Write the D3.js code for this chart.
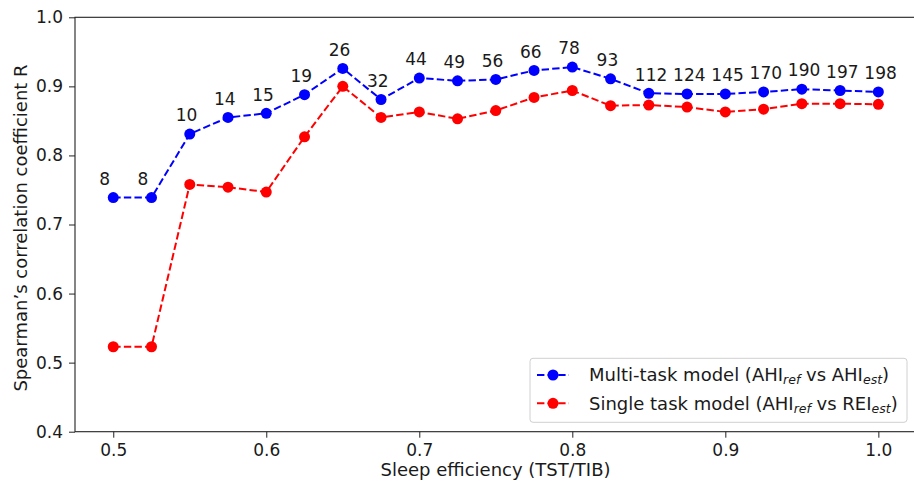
<!DOCTYPE html>
<html>
<head>
<meta charset="utf-8">
<script src="https://cdn.jsdelivr.net/npm/d3@7"></script>
<style>
  body { margin: 0; background: #fff; }
  text { font-family: "DejaVu Sans", sans-serif; fill: #1a1a1a; }
</style>
</head>
<body>
<svg class="chart"></svg>
<script>
var width = 914,
    height = 485;

// sleep efficiency bins
var efficiency = [0.5, 0.525, 0.55, 0.575, 0.6, 0.625, 0.65, 0.675, 0.7, 0.725, 0.75,
                  0.775, 0.8, 0.825, 0.85, 0.875, 0.9, 0.925, 0.95, 0.975, 1.0];
var multiTask = [0.739, 0.739, 0.831, 0.855, 0.861, 0.888, 0.926, 0.881, 0.912, 0.908, 0.910,
                 0.923, 0.928, 0.911, 0.890, 0.889, 0.889, 0.892, 0.896, 0.894, 0.892];
var singleTask = [0.523, 0.523, 0.758, 0.754, 0.747, 0.827, 0.900, 0.855, 0.863, 0.853, 0.865,
                  0.884, 0.894, 0.872, 0.873, 0.870, 0.863, 0.867, 0.875, 0.875, 0.874];
var counts = [8, 8, 10, 14, 15, 19, 26, 32, 44, 49, 56, 66, 78, 93, 112, 124, 145, 170, 190, 197, 198];
var xticks = [0.5, 0.6, 0.7, 0.8, 0.9, 1.0];
var yticks = [0.4, 0.5, 0.6, 0.7, 0.8, 0.9, 1.0];

var padLeft = 75, padRight = 916.6, padTop = 17.3, padBottom = 431.7;
var fontSize = "17px";

var xscale = d3.scaleLinear().domain([0.475, 1.025]).range([padLeft, padRight]);
var yscale = d3.scaleLinear().domain([0.4, 1.0]).range([padBottom, padTop]);

var chart = d3.select(".chart")
    .attr("width", width)
    .attr("height", height);

// axes
var xaxis = chart.append("g")
    .attr("transform", "translate(0," + padBottom + ")")
    .call(d3.axisBottom(xscale).tickValues(xticks).tickSize(6).tickPadding(6)
      .tickFormat(d3.format(".1f")));
var yaxis = chart.append("g")
    .attr("transform", "translate(" + padLeft + ",0)")
    .call(d3.axisLeft(yscale).tickValues(yticks).tickSize(6).tickPadding(6)
      .tickFormat(d3.format(".1f")));

[xaxis, yaxis].forEach(function(a) {
  a.select(".domain").remove();
  a.selectAll("line").attr("stroke", "#222").attr("stroke-width", 1);
  a.selectAll("text").style("font-size", fontSize).attr("font-family", null);
});

// spines
chart.append("rect")
    .attr("x", padLeft).attr("y", padTop)
    .attr("width", padRight - padLeft).attr("height", padBottom - padTop)
    .attr("fill", "none").attr("stroke", "#222").attr("stroke-width", 1.1);

var series = [
  { values: multiTask, color: "#0000ff" },
  { values: singleTask, color: "#ff0000" }
];

var line = d3.line()
    .x(function(d) { return xscale(d[0]); })
    .y(function(d) { return yscale(d[1]); });

series.forEach(function(s) {
  var pts = efficiency.map(function(x, i) { return [x, s.values[i]]; });
  chart.append("path")
      .datum(pts)
      .attr("d", line)
      .attr("fill", "none")
      .attr("stroke", s.color)
      .attr("stroke-width", 2)
      .attr("stroke-dasharray", "7.4,3.2");
  chart.append("g").selectAll("circle")
      .data(pts)
    .enter().append("circle")
      .attr("cx", function(d) { return xscale(d[0]); })
      .attr("cy", function(d) { return yscale(d[1]); })
      .attr("r", 5.5)
      .attr("fill", s.color);
});

// sample counts above the multi-task points
chart.append("g").selectAll("text")
    .data(counts)
  .enter().append("text")
    .attr("x", function(d, i) { return xscale(efficiency[i]) - 14; })
    .attr("y", function(d, i) { return yscale(multiTask[i]) - 12.7; })
    .style("font-size", fontSize)
    .text(function(d) { return d; });

// axis labels
chart.append("text")
    .attr("x", 495.5)
    .attr("y", 476)
    .attr("text-anchor", "middle")
    .style("font-size", "18px")
    .text("Sleep efficiency (TST/TIB)");

chart.append("text")
    .attr("transform", "translate(26.5,228) rotate(-90)")
    .attr("text-anchor", "middle")
    .style("font-size", "18px")
    .text("Spearman\u2019s correlation coefficient R");

// legend
var legend = chart.append("g").attr("transform", "translate(530,358.3)");
legend.append("rect")
    .attr("width", 377).attr("height", 64)
    .attr("rx", 3)
    .attr("fill", "#fff").attr("fill-opacity", 0.8)
    .attr("stroke", "#d0d0d0");

var legendItems = [
  { color: "#0000ff", name: "Multi-task model (AHI", sub1: "ref", mid: " vs AHI", sub2: "est" },
  { color: "#ff0000", name: "Single task model (AHI", sub1: "ref", mid: " vs REI", sub2: "est" }
];

legendItems.forEach(function(item, i) {
  var row = legend.append("g").attr("transform", "translate(0," + (16.7 + i * 28.3) + ")");
  row.append("line")
      .attr("x1", 7).attr("x2", 39)
      .attr("stroke", item.color).attr("stroke-width", 2)
      .attr("stroke-dasharray", "7.4,3.2");
  row.append("circle").attr("cx", 23).attr("r", 5.5).attr("fill", item.color);
  var t = row.append("text")
      .attr("x", 59).attr("dy", "0.36em")
      .style("font-size", "18px");
  t.append("tspan").text(item.name);
  t.append("tspan").attr("dy", 3).style("font-size", "12.5px").style("font-style", "italic").text(item.sub1);
  t.append("tspan").attr("dy", -3).text(item.mid);
  t.append("tspan").attr("dy", 3).style("font-size", "12.5px").style("font-style", "italic").text(item.sub2);
  t.append("tspan").attr("dy", -3).text(")");
});
</script>
</body>
</html>
